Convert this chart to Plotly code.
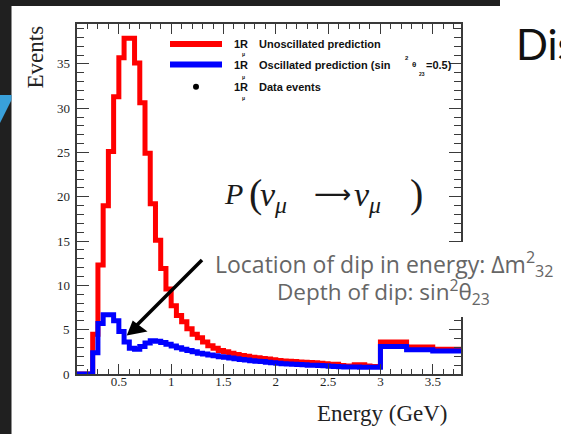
import plotly.graph_objects as go

# ---------------- data ----------------
bin_low = [round(0.05 * i, 2) for i in range(60)] + [3.0, 3.25, 3.5]
bin_top = 4.0
unoscillated = [0, 0, 0, 0, 0,
                4.5, 12.3, 19.0, 25.1, 31.3, 35.7, 37.9, 37.9, 35.1, 30.6, 24.9, 19.2, 15.1, 11.9, 9.6,
                7.7, 6.6, 5.9, 5.1, 4.5, 4.1, 3.6, 3.2, 2.9, 2.65,
                2.5, 2.35, 2.2, 2.1, 2.0, 1.9, 1.82, 1.75, 1.68, 1.6,
                1.52, 1.48, 1.44, 1.4, 1.36, 1.32, 1.3, 1.28, 1.2, 1.15,
                1.1, 1.1, 0.95, 0.9, 0.9, 1.05, 1.05, 0.9, 0.85, 0.85,
                3.6, 3.05, 2.8]
oscillated = [0, 0, 0, 0, 0,
              2.4, 5.7, 6.7, 6.7, 6.0, 4.8, 3.6, 2.9, 2.8, 3.1, 3.5, 3.75, 3.7, 3.55, 3.35,
              3.15, 2.95, 2.8, 2.65, 2.5, 2.35, 2.25, 2.15, 2.05, 1.95,
              1.88, 1.8, 1.72, 1.65, 1.58, 1.5, 1.45, 1.4, 1.33, 1.27,
              1.2, 1.17, 1.13, 1.1, 1.06, 1.03, 1.0, 0.98, 0.95, 0.92,
              0.88, 0.85, 0.83, 0.8, 0.8, 0.78, 0.77, 0.77, 0.76, 0.76,
              3.1, 2.75, 2.6]
x_ticks = [0.5, 1, 1.5, 2, 2.5, 3, 3.5]
y_ticks = [0, 5, 10, 15, 20, 25, 30, 35]

# ---------------- geometry helpers (pixels -> paper) ----------------
W, H = 561, 434
L, R, T, B = 77, 461, 24, 374


def px(x):
    return (x - L) / (R - L)


def py(y):
    return (B - y) / (B - T)


edges = bin_low + [bin_top]

fig = go.Figure()
fig.add_trace(go.Scatter(x=edges, y=unoscillated + [unoscillated[-1]], mode="lines",
                         line=dict(shape="hv", color="#ff0000", width=5), showlegend=False,
                         hoverinfo="skip"))
fig.add_trace(go.Scatter(x=edges, y=oscillated + [oscillated[-1]], mode="lines",
                         line=dict(shape="hv", color="#0000ff", width=5), showlegend=False,
                         hoverinfo="skip"))

axis_col = "#3a3a3a"
tickfont = dict(family="Liberation Serif", size=13, color="#1f1f1f")

fig.update_xaxes(range=[0.1, 3.77], tickvals=x_ticks, ticktext=[f"{v:g}" for v in x_ticks],
                 ticks="inside", ticklen=10, tickwidth=1, tickcolor=axis_col,
                 showline=True, linecolor=axis_col, linewidth=1.5, mirror="ticks",
                 showgrid=False, zeroline=False, tickfont=tickfont, ticklabelstandoff=-5,
                 minor=dict(dtick=0.1, tick0=0, ticks="inside", ticklen=5, tickcolor=axis_col, showgrid=False))
fig.update_yaxes(range=[0, 39.5], tickvals=y_ticks, showticklabels=False,
                 ticks="inside", ticklen=12, tickwidth=1, tickcolor=axis_col,
                 showline=True, linecolor=axis_col, linewidth=1.5, mirror="ticks",
                 showgrid=False, zeroline=False,
                 minor=dict(dtick=1, tick0=0, ticks="inside", ticklen=7, tickcolor=axis_col, showgrid=False))

shapes = []
# slide decorations
shapes.append(dict(type="rect", xref="paper", yref="paper", x0=px(0), x1=px(500), y0=py(0), y1=py(6),
                   fillcolor="#202020", line=dict(width=0), layer="above"))
shapes.append(dict(type="rect", xref="paper", yref="paper", x0=px(0), x1=px(11.5), y0=py(0), y1=py(434),
                   fillcolor="#202020", line=dict(width=0), layer="above"))
shapes.append(dict(type="path", xref="paper", yref="paper",
                   path=f"M{px(0)},{py(95)} L{px(11.5)},{py(95)} L{px(11.5)},{py(100)} L{px(0)},{py(123)} Z",
                   fillcolor="#39a0da", line=dict(width=0), layer="above"))
# white box behind the grey annotation (hides right axis)
shapes.append(dict(type="rect", xref="paper", yref="paper", x0=px(205), x1=px(561), y0=py(242), y1=py(317),
                   fillcolor="white", line=dict(width=0), layer="above"))
# arrow
shapes.append(dict(type="line", xref="paper", yref="paper", x0=px(202), y0=py(260), x1=px(137), y1=py(325),
                   line=dict(color="black", width=3.5), layer="above"))
shapes.append(dict(type="path", xref="paper", yref="paper",
                   path=f"M{px(126.7)},{py(335.5)} L{px(132.7)},{py(320.5)} L{px(147.5)},{py(331.5)} Z",
                   fillcolor="black", line=dict(width=0), layer="above"))
# legend samples
shapes.append(dict(type="line", xref="paper", yref="paper", x0=px(170), x1=px(222), y0=py(44), y1=py(44),
                   line=dict(color="#ff0000", width=6), layer="above"))
shapes.append(dict(type="line", xref="paper", yref="paper", x0=px(170), x1=px(222), y0=py(64.5), y1=py(64.5),
                   line=dict(color="#0000ff", width=6), layer="above"))
shapes.append(dict(type="circle", xref="paper", yref="paper", x0=px(193), x1=px(199), y0=py(83.7), y1=py(89.7),
                   fillcolor="black", line=dict(width=0), layer="above"))

ann = []

# y tick labels placed on the y scale
for v in y_ticks:
    ann.append(dict(xref="paper", yref="y", x=px(72), y=v, text=str(v), showarrow=False,
                    xanchor="right", yanchor="middle", font=tickfont))


def text(x, y, s, size, color="#111", family="Liberation Sans", xanchor="left", bold=False, angle=0):
    if bold:
        s = f"<b>{s}</b>"
    ann.append(dict(xref="paper", yref="paper", x=px(x), y=py(y), text=s, showarrow=False,
                    xanchor=xanchor, yanchor="middle", textangle=angle,
                    font=dict(family=family, size=size, color=color)))


# legend texts
for yy in (44, 64.5, 86.7):
    text(232, yy, "1R", 11, bold=True)
for yy in (54, 76.5, 98):
    text(240, yy, "μ", 5, bold=True)
text(257, 44, "Unoscillated prediction", 11, bold=True)
text(257, 64.5, "Oscillated prediction (sin", 11, bold=True)
text(403, 58, "2", 6, bold=True)
text(410, 65, "θ", 8, bold=True)
text(417, 74, "23", 5, bold=True)
text(424, 64.5, "=0.5)", 11, bold=True)
text(257, 86.7, "Data events", 11, bold=True)

# axis titles
text(35, 57.5, "Events", 23, color="#222", family="Liberation Serif", xanchor="center", angle=-90)
text(450, 413, "Energy (GeV)", 23, color="#222", family="Liberation Serif", xanchor="right")

# formula P(nu_mu -> nu_mu)
fam = "Liberation Serif"
fc = "#1a1a1a"
text(222, 193, "<i>P</i>", 30, color=fc, family=fam)
text(247, 193, "(", 40, color=fc, family=fam)
text(258, 197, "<i>ν</i><sub><i>μ</i></sub>", 34, color=fc, family=fam)
text(332, 194, "⟶", 26, color=fc, family="DejaVu Sans", xanchor="center")
text(352, 197, "<i>ν</i><sub><i>μ</i></sub>", 34, color=fc, family=fam)
text(408, 193, ")", 40, color=fc, family=fam)

# grey annotation
text(213, 264, "Location of dip in energy: Δm<sup>2</sup><sub>32</sub>", 23, color="#666", family="Open Sans")
text(275, 292, "Depth of dip: sin<sup>2</sup>θ<sub>23</sub>", 22.5, color="#666", family="Open Sans")

# slide title fragment
text(514, 44, "Dis", 42, color="#111", family="Lato")

fig.update_layout(width=W, height=H, margin=dict(l=L, r=W - R, t=T, b=H - B),
                  paper_bgcolor="white", plot_bgcolor="white",
                  shapes=shapes, annotations=ann, showlegend=False, hovermode=False)

fig.write_html("out.html", config={"displayModeBar": False},
               post_script="document.body.style.margin='0';")
